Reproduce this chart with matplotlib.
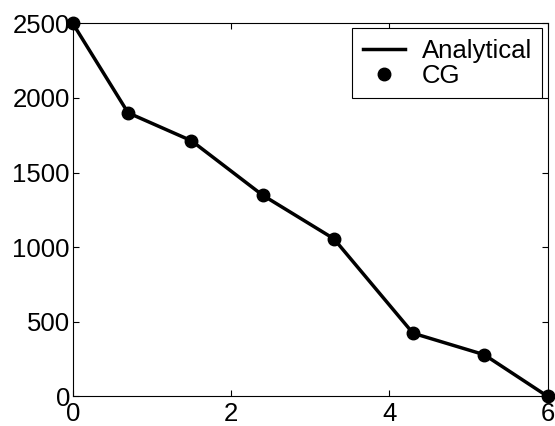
import matplotlib
matplotlib.use("Agg")
import matplotlib.pyplot as plt

# valeurs
x = [0, 0.7, 1.5, 2.4, 3.3, 4.3, 5.2, 6.0]
analytical = [2500, 1900, 1713, 1348, 1056, 423, 279, 0]
cg = [2500, 1900, 1713, 1348, 1056, 423, 279, 0]
xticks = [0, 2, 4, 6]
yticks = [0, 500, 1000, 1500, 2000, 2500]

plt.rcParams['font.family'] = ['Liberation Sans', 'DejaVu Sans']

fig = plt.figure(figsize=(5.55, 4.26), dpi=100)
ax = fig.add_axes([0.131, 0.0697, 0.8555, 0.8756])

ax.plot(x, analytical, color='black', linewidth=2.5, label='Analytical', clip_on=False)
ax.plot(x, cg, 'o', color='black', markersize=9, label='CG', clip_on=False)

ax.set_xlim(0, 6)
ax.set_ylim(0, 2500)
ax.set_xticks(xticks)
ax.set_yticks(yticks)
ax.tick_params(direction='in', top=True, right=True, length=4, width=0.8,
               labelsize=18.5)
ax.tick_params(axis='x', pad=4)
ax.tick_params(axis='y', pad=2)
for s in ax.spines.values():
    s.set_linewidth(0.8)

leg = ax.legend(loc='upper right', fontsize=18.5, fancybox=False, framealpha=1,
                edgecolor='black', borderaxespad=0.2, handlelength=1.65,
                handletextpad=0.65, borderpad=0.4, labelspacing=0.05)
leg.get_frame().set_linewidth(0.8)

fig.savefig('out.png', dpi=100)
